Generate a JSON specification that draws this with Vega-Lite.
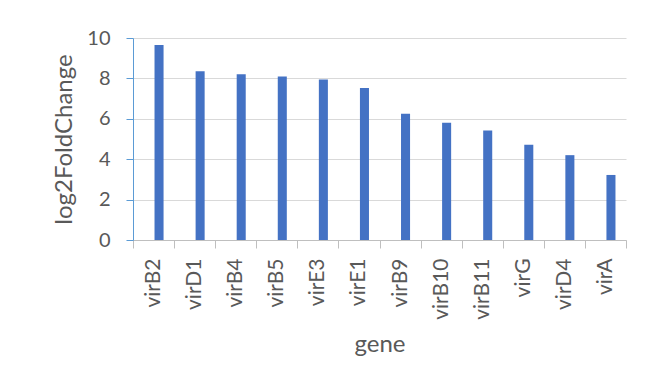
{
  "$schema": "https://vega.github.io/schema/vega-lite/v6.json",
  "width": 493,
  "height": 202,
  "autosize": {"type": "none"},
  "padding": {"left": 133, "top": 38, "right": 27, "bottom": 142},
  "background": "white",
  "config": {
    "font": "Lato",
    "view": {"stroke": null}
  },
  "data": {
    "values": [
      {"gene": "virB2", "log2FoldChange": 9.65},
      {"gene": "virD1", "log2FoldChange": 8.35},
      {"gene": "virB4", "log2FoldChange": 8.2},
      {"gene": "virB5", "log2FoldChange": 8.1},
      {"gene": "virE3", "log2FoldChange": 7.95},
      {"gene": "virE1", "log2FoldChange": 7.52},
      {"gene": "virB9", "log2FoldChange": 6.25},
      {"gene": "virB10", "log2FoldChange": 5.8},
      {"gene": "virB11", "log2FoldChange": 5.42},
      {"gene": "virG", "log2FoldChange": 4.72},
      {"gene": "virD4", "log2FoldChange": 4.2},
      {"gene": "virA", "log2FoldChange": 3.22}
    ]
  },
  "mark": {"type": "bar", "color": "#4472C4", "width": {"band": 0.22}, "xOffset": 5.5},
  "encoding": {
    "x": {
      "field": "gene",
      "type": "nominal",
      "sort": null,
      "scale": {"paddingInner": 0, "paddingOuter": 0},
      "axis": {
        "title": "gene",
        "titleFontSize": 24,
        "titleFontWeight": "normal",
        "titleColor": "#595959",
        "titlePadding": 13,
        "labelAngle": -90,
        "labelFontSize": 21,
        "labelColor": "#595959",
        "labelPadding": 10,
        "domainColor": "#BFBFBF",
        "tickColor": "#BFBFBF",
        "tickSize": 8,
        "tickBand": "extent",
        "grid": false
      }
    },
    "y": {
      "field": "log2FoldChange",
      "type": "quantitative",
      "scale": {"domain": [0, 10]},
      "axis": {
        "title": "log2FoldChange",
        "titleFontSize": 24,
        "titleFontWeight": "normal",
        "titleColor": "#595959",
        "titlePadding": 10,
        "values": [0, 2, 4, 6, 8, 10],
        "labelFontSize": 20,
        "labelColor": "#595959",
        "labelPadding": 16,
        "domainColor": "#5B9BD5",
        "tickColor": "#5B9BD5",
        "tickSize": 7,
        "gridColor": "#D9D9D9",
        "gridWidth": 1.2
      }
    }
  }
}
